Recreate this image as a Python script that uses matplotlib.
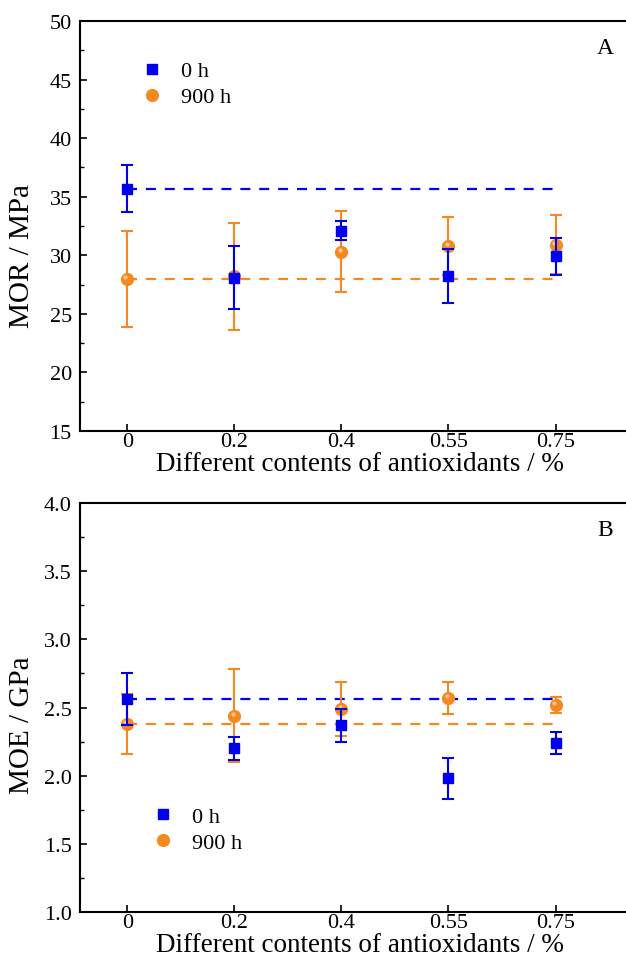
import matplotlib.pyplot as plt
import matplotlib.transforms as mtransforms
import numpy as np

plt.rcParams['font.family'] = 'Liberation Serif'

## data
contents = ['0', '0.2', '0.4', '0.55', '0.75']

mor_0h = [35.7, 28.1, 32.1, 28.2, 29.9]
mor_0h_err = [2.0, 2.7, 0.8, 2.3, 1.6]
mor_900h = [28.0, 28.2, 30.3, 30.8, 30.9]
mor_900h_err = [4.1, 4.6, 3.45, 2.5, 2.5]

moe_0h = [2.56, 2.20, 2.37, 1.98, 2.24]
moe_0h_err = [0.19, 0.085, 0.12, 0.15, 0.08]
moe_900h = [2.38, 2.44, 2.49, 2.57, 2.52]
moe_900h_err = [0.22, 0.34, 0.20, 0.12, 0.06]

blue = '#0000ee'
orange = '#f5891f'
light = '#fcc894'

fig = plt.figure(figsize=(6.26, 9.62), dpi=100)
ax_a = fig.add_axes([0.128, 0.551, 0.8946, 0.426])
ax_b = fig.add_axes([0.128, 0.051, 0.8946, 0.425])

def draw_panel(ax, v0, e0, v9, e9, ylim, yticks, minor, ylabel, ylab_y, tag, legend_pos):
    x = np.arange(len(contents))
    # dashed reference lines at the first value
    ax.plot([x[0], x[-1]], [v0[0], v0[0]], color=blue, ls=(0, (4.5, 4)), lw=1.6, zorder=1)
    ax.plot([x[0], x[-1]], [v9[0], v9[0]], color=orange, ls=(0, (4.5, 4)), lw=1.6, zorder=1)
    ax.errorbar(x, v0, yerr=e0, fmt='s', color=blue, ms=7, capsize=4, elinewidth=1.5,
                capthick=1.5, label='0 h', zorder=3)
    ax.errorbar(x, v9, yerr=e9, fmt='o', color=orange, mfc=orange, mec=orange, ms=8.5,
                capsize=4, elinewidth=1.5, capthick=1.5, label='900 h', zorder=2)
    # small highlight on the spheres
    shine = mtransforms.offset_copy(ax.transData, fig=fig, x=-1.3, y=1.3, units='points')
    ax.plot(x, v9, 'o', color=light, ms=3, mew=0, transform=shine, zorder=2.5)
    ax.set_xlim(-0.44, 4.79)
    ax.set_ylim(*ylim)
    ax.set_xticks(x)
    ax.set_xticklabels(contents)
    ax.set_yticks(yticks)
    ax.set_yticks(minor, minor=True)
    ax.tick_params(direction='in', length=5, width=1.2, labelsize=16)
    ax.tick_params(which='minor', direction='in', length=3, width=1.0)
    ax.tick_params(axis='x', pad=1)
    ax.tick_params(axis='y', pad=6)
    for s in ax.spines.values():
        s.set_linewidth(1.5)
    ax.set_xlabel('Different contents of antioxidants / %', fontsize=19.5, labelpad=0)
    ax.set_ylabel(ylabel, fontsize=21)
    ax.yaxis.set_label_coords(-0.08, ylab_y)
    ax.text(0.9375, 0.935, tag, transform=ax.transAxes, fontsize=17, ha='center', va='center')
    h, l = ax.get_legend_handles_labels()
    h = [hh[0] for hh in h]
    ax.legend(h, l, loc='upper left', bbox_to_anchor=legend_pos, frameon=False, fontsize=16,
              handlelength=1.0, handletextpad=0.8, labelspacing=0.25, borderaxespad=0)

draw_panel(ax_a, mor_0h, mor_0h_err, mor_900h, mor_900h_err, (15, 50),
           np.arange(15, 51, 5), np.arange(17.5, 50, 5), 'MOR / MPa', 0.43, 'A', (0.092, 0.925))
draw_panel(ax_b, moe_0h, moe_0h_err, moe_900h, moe_900h_err, (1.0, 4.0),
           np.arange(1.0, 4.01, 0.5), np.arange(1.25, 4.0, 0.5), 'MOE / GPa', 0.46, 'B', (0.113, 0.28))
ax_b.set_yticklabels([f'{v:.1f}' for v in np.arange(1.0, 4.01, 0.5)])

fig.savefig('out.png', dpi=100)
